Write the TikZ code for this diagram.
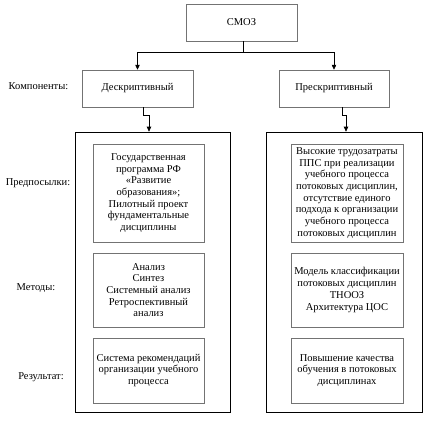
\documentclass[tikz,border=0pt]{standalone}
\usepackage{fontspec}
\setmainfont{Liberation Serif}
\usetikzlibrary{arrows.meta}
\tikzset{
  txt/.style={font=\fontsize{10.5}{11.7}\selectfont, align=center, inner sep=0pt},
  graybox/.style={txt, draw=black!55, line width=0.5pt},
  outerbox/.style={draw=black, line width=0.7pt, inner sep=0pt},
  lbl/.style={txt},
  arr/.style={draw=black, line width=0.7pt, -{Triangle[length=5pt,width=4.5pt]}},
  conn/.style={draw=black, line width=0.7pt}
}
\begin{document}
\begin{tikzpicture}[x=1pt,y=-1pt]
\useasboundingbox (0,0) rectangle (424,426);
% top level
\node[graybox, minimum width=111pt, minimum height=37pt] (smoz) at (241.5,22.5) {СМОЗ};
\node[graybox, minimum width=111pt, minimum height=37pt] (desc) at (137.5,88.5) {Дескриптивный};
\node[graybox, minimum width=110pt, minimum height=37pt] (presc) at (334,88.5) {Прескриптивный};
% outer boxes
\node[outerbox, minimum width=155pt, minimum height=280pt] (outL) at (152.5,272) {};
\node[outerbox, minimum width=156pt, minimum height=280pt] (outR) at (344,272) {};
% inner boxes left
\node[graybox, minimum width=111pt, minimum height=98pt] (l1) at (148.5,193) {Государственная\\программа РФ\\«Развитие\\образования»;\\Пилотный проект\\фундаментальные\\дисциплины};
\node[graybox, minimum width=111pt, minimum height=74pt] (l2) at (148.5,290) {Анализ\\Синтез\\Системный анализ\\Ретроспективный\\анализ};
\node[graybox, minimum width=111pt, minimum height=65pt] (l3) at (148.5,370.5) {Система рекомендаций\\организации учебного\\процесса};
% inner boxes right
\node[graybox, minimum width=112pt, minimum height=98pt] (r1) at (347,193) {Высокие трудозатраты\\ППС при реализации\\учебного процесса\\потоковых дисциплин,\\отсутствие единого\\подхода к организации\\учебного процесса\\потоковых дисциплин};
\node[graybox, minimum width=112pt, minimum height=74pt] (r2) at (347,290) {Модель классификации\\потоковых дисциплин\\ТНООЗ\\Архитектура ЦОС};
\node[graybox, minimum width=112pt, minimum height=65pt] (r3) at (347,370.5) {Повышение качества\\обучения в потоковых\\дисциплинах};
% row labels
\node[lbl] (lk) at (38.5,86) {Компоненты:};
\node[lbl] (lp) at (38,183) {Предпосылки:};
\node[lbl] (lm) at (36,288) {Методы:};
\node[lbl] (lr) at (41,377) {Результат:};
% connectors
\draw[conn] ([xshift=1.5pt]smoz.south) -- ++(0,11) coordinate (j);
\draw[arr] (j) -| (desc.north);
\draw[arr] (j) -| (presc.north);
\draw[arr] ([xshift=5.5pt]desc.south) -- ++(0,8) -| ([xshift=-3.5pt]outL.north);
\draw[arr] ([xshift=8pt]presc.south) -- ++(0,8) -| ([xshift=2pt]outR.north);
\end{tikzpicture}
\end{document}
